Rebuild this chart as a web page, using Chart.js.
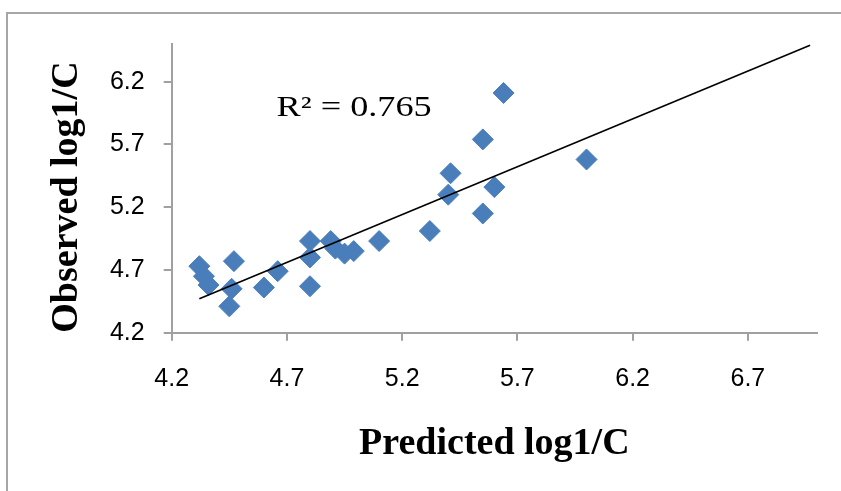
<!DOCTYPE html>
<html>
<head>
<meta charset="utf-8">
<script src="https://cdn.jsdelivr.net/npm/chart.js@4/dist/chart.umd.min.js"></script>
<style>
  html, body { margin: 0; padding: 0; background: #fff; overflow: hidden; }
  #wrap { position: relative; width: 841px; height: 491px; }
  #frame { position: absolute; left: 6px; top: 12px; width: 900px; height: 600px;
           border-left: 2px solid #a6a6a6; border-top: 2px solid #a6a6a6; }
  #chart { position: absolute; left: 0; top: 0; }
</style>
</head>
<body>
<div id="wrap">
  <div id="frame"></div>
  <canvas id="chart" width="841" height="491"></canvas>
</div>
<script>
// predicted vs observed log1/C
const predicted = [4.32, 4.34, 4.36, 4.47, 4.46, 4.45, 4.60, 4.66, 4.80, 4.80, 4.80, 4.89,
                   4.91, 4.95, 4.99, 5.10, 5.32, 5.40, 5.41, 5.55, 5.55, 5.60, 5.64, 6.00];
const observed  = [4.73, 4.65, 4.58, 4.77, 4.55, 4.41, 4.56, 4.69, 4.93, 4.80, 4.57, 4.93,
                   4.87, 4.83, 4.85, 4.93, 5.01, 5.30, 5.47, 5.15, 5.74, 5.36, 6.11, 5.58];

// linear trendline end points
const trendX = [4.32, 6.97];
const trendY = [4.47, 6.49];

const xTicks = [4.2, 4.7, 5.2, 5.7, 6.2, 6.7];
const yTicks = [4.2, 4.7, 5.2, 5.7, 6.2];
const r2Text = 'R\u00b2 = 0.765';

Chart.defaults.font.family = '"Liberation Sans", Arial, sans-serif';
Chart.defaults.color = '#000';

const axisGray = '#a0a0a0';
const titleFont = { family: '"Liberation Serif", "Times New Roman", serif', size: 38, weight: 'bold' };

const r2Label = {
  id: 'r2Label',
  afterDatasetsDraw(chart) {
    const { ctx, scales: { x, y } } = chart;
    ctx.save();
    ctx.font = '29px "Liberation Serif", "Times New Roman", serif';
    ctx.fillStyle = '#000';
    ctx.textBaseline = 'alphabetic';
    ctx.translate(x.getPixelForValue(4.655), y.getPixelForValue(5.927));
    ctx.scale(1.25, 1);
    ctx.fillText(r2Text, 0, 0);
    ctx.restore();
  }
};

new Chart(document.getElementById('chart'), {
  type: 'scatter',
  data: {
    datasets: [
      {
        type: 'line',
        data: trendX.map((v, i) => ({ x: v, y: trendY[i] })),
        borderColor: '#000',
        borderWidth: 1.6,
        pointRadius: 0,
        fill: false,
        order: 0
      },
      {
        data: predicted.map((v, i) => ({ x: v, y: observed[i] })),
        pointStyle: 'rectRot',
        pointRadius: 10.5,
        backgroundColor: '#4a7ebb',
        borderColor: '#4a7ebb',
        borderWidth: 1,
        order: 1
      }
    ]
  },
  options: {
    responsive: false,
    animation: false,
    layout: { padding: { top: 44, right: 24, left: 0, bottom: 0 } },
    plugins: { legend: { display: false }, tooltip: { enabled: false } },
    scales: {
      x: {
        type: 'linear',
        min: 4.2,
        max: 7.0,
        afterBuildTicks: s => { s.ticks = xTicks.map(v => ({ value: v })); },
        afterFit: s => { s.height = 158.3; },
        ticks: { padding: 23, font: { size: 25 }, callback: v => v.toFixed(1) },
        grid: { drawOnChartArea: false, drawTicks: true, tickLength: 8, color: axisGray, lineWidth: 2 },
        border: { display: true, color: axisGray, width: 2 },
        title: { display: true, text: 'Predicted log1/C', font: titleFont, padding: { top: 0, bottom: 24 } }
      },
      y: {
        type: 'linear',
        min: 4.2,
        max: 6.5,
        afterBuildTicks: s => { s.ticks = yTicks.map(v => ({ value: v })); },
        afterFit: s => { s.width = 171.7; },
        ticks: { padding: 19, font: { size: 25 }, callback: v => v.toFixed(1) },
        grid: { drawOnChartArea: false, drawTicks: true, tickLength: 8, color: axisGray, lineWidth: 2 },
        border: { display: true, color: axisGray, width: 2 },
        title: { display: true, text: 'Observed log1/C', font: titleFont, align: 'start', padding: { top: 44, bottom: 0 } }
      }
    }
  },
  plugins: [r2Label]
});
</script>
</body>
</html>
